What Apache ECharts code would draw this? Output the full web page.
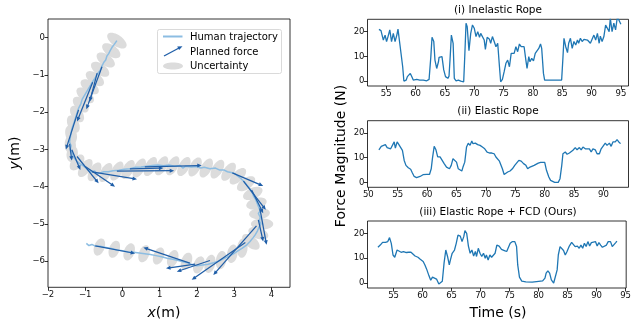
<!DOCTYPE html>
<html><head><meta charset="utf-8">
<script src="https://cdn.jsdelivr.net/npm/echarts@6/dist/echarts.min.js"></script>
<style>html,body{margin:0;padding:0;background:#fff}#c{width:634px;height:325px}</style>
</head><body><div id="c"></div>
<script>
// ---------- Left panel data (metres) ----------
const trajectory = [
[-0.15,-0.08],[-0.22,-0.18],[-0.28,-0.26],[-0.33,-0.35],[-0.37,-0.43],[-0.42,-0.5],[-0.45,-0.6],[-0.5,-0.66],[-0.55,-0.76],[-0.6,-0.88],[-0.66,-0.95],[-0.72,-1.06],[-0.78,-1.15],[-0.84,-1.25],[-0.9,-1.35],[-0.96,-1.45],[-1.02,-1.55],[-1.08,-1.65],[-1.12,-1.78],[-1.18,-1.9],[-1.22,-2.02],[-1.26,-2.15],[-1.3,-2.28],[-1.35,-2.42],[-1.38,-2.55],[-1.4,-2.68],[-1.42,-2.8],[-1.38,-2.9],[-1.4,-3.0],[-1.36,-3.08],[-1.33,-3.18],[-1.28,-3.25],[-1.22,-3.32],[-1.15,-3.38],[-1.08,-3.42],[-1.0,-3.48],[-0.92,-3.55],[-0.85,-3.6],[-0.75,-3.58],[-0.68,-3.65],[-0.6,-3.63],[-0.5,-3.6],[-0.38,-3.6],[-0.25,-3.57],[-0.1,-3.56],[0.05,-3.53],[0.2,-3.52],[0.35,-3.48],[0.5,-3.47],[0.65,-3.45],[0.8,-3.43],[0.95,-3.42],[1.1,-3.44],[1.25,-3.42],[1.4,-3.45],[1.55,-3.43],[1.62,-3.5],[1.7,-3.45],[1.85,-3.47],[2.0,-3.46],[2.1,-3.5],[2.2,-3.48],[2.35,-3.52],[2.5,-3.5],[2.6,-3.55],[2.72,-3.55],[2.82,-3.6],[2.92,-3.62],[3.02,-3.65],[3.1,-3.72],[3.18,-3.78],[3.28,-3.88],[3.35,-3.97],[3.42,-4.05],[3.48,-4.15],[3.52,-4.25],[3.58,-4.35],[3.62,-4.45],[3.66,-4.55],[3.7,-4.65],[3.65,-4.72],[3.7,-4.82],[3.68,-4.92],[3.72,-5.0],[3.66,-5.1],[3.62,-5.2],[3.56,-5.3],[3.5,-5.38],[3.42,-5.48],[3.33,-5.57],[3.22,-5.65],[3.1,-5.72],[2.98,-5.8],[2.85,-5.87],[2.72,-5.93],[2.58,-6.0],[2.45,-6.04],[2.3,-6.08],[2.15,-6.1],[2.0,-6.12],[1.88,-6.1],[1.78,-6.05],[1.65,-6.02],[1.5,-5.98],[1.35,-5.95],[1.2,-5.92],[1.05,-5.88],[0.9,-5.85],[0.75,-5.82],[0.6,-5.8],[0.45,-5.78],[0.3,-5.76],[0.15,-5.75],[0.0,-5.72],[-0.15,-5.7],[-0.3,-5.66],[-0.45,-5.63],[-0.6,-5.6],[-0.72,-5.6],[-0.82,-5.55],[-0.9,-5.58],[-0.97,-5.52]
];
// [centre x, centre y, semi-major, semi-minor, angle deg]
const uncertainty = [
[-0.15,-0.08,0.3,0.15,-35],[-0.3,-0.35,0.28,0.15,-35],[-0.45,-0.6,0.28,0.15,-35],[-0.6,-0.85,0.28,0.15,-35],[-0.74,-1.1,0.28,0.15,-35],[-0.88,-1.32,0.28,0.15,-35],[-1.0,-1.55,0.28,0.15,-40],[-1.12,-1.8,0.26,0.15,-45],[-1.22,-2.05,0.25,0.15,-55],[-1.32,-2.32,0.25,0.15,-65],[-1.38,-2.6,0.25,0.15,-75],[-1.4,-2.88,0.25,0.15,-85],[-1.35,-3.12,0.22,0.15,80],[-1.22,-3.35,0.25,0.15,50],
[-1.0,-3.5,0.28,0.14,55],[-0.75,-3.6,0.28,0.14,60],[-0.45,-3.62,0.28,0.14,62],[-0.15,-3.58,0.28,0.14,62],[0.15,-3.54,0.28,0.14,62],[0.45,-3.5,0.28,0.14,62],[0.75,-3.46,0.28,0.14,62],[1.05,-3.44,0.28,0.14,62],[1.35,-3.44,0.28,0.14,62],[1.65,-3.46,0.28,0.14,62],[1.95,-3.47,0.28,0.14,62],[2.25,-3.5,0.28,0.14,62],[2.55,-3.53,0.28,0.14,60],[2.85,-3.6,0.28,0.14,55],[3.1,-3.72,0.28,0.14,45],
[3.32,-3.92,0.28,0.15,35],[3.5,-4.18,0.28,0.15,25],[3.6,-4.45,0.28,0.15,15],[3.68,-4.72,0.28,0.15,5],[3.75,-5.0,0.3,0.15,0],[3.65,-5.25,0.28,0.15,-20],[3.45,-5.48,0.28,0.15,-40],
[3.22,-5.65,0.26,0.14,85],[2.95,-5.8,0.25,0.14,80],[2.65,-5.97,0.25,0.14,80],[2.35,-6.07,0.25,0.14,75],
[2.05,-6.1,0.24,0.14,70],[1.72,-6.0,0.24,0.14,70],[1.35,-5.93,0.24,0.14,70],[0.97,-5.86,0.24,0.14,70],[0.58,-5.8,0.24,0.14,70],[0.18,-5.75,0.24,0.14,70],[-0.22,-5.68,0.24,0.14,70],[-0.62,-5.62,0.24,0.14,70]
];
// [tail x, tail y, head x, head y]
const plannedForce = [
[-0.55,-0.78,-0.97,-1.92],[-0.68,-0.95,-0.88,-1.72],[-0.8,-1.2,-1.22,-2.25],[-1.18,-1.94,-1.52,-3.0],
[-1.42,-2.85,-1.36,-3.3],[-1.36,-3.01,-1.13,-3.55],[-1.22,-3.19,-0.64,-3.91],[-1.0,-3.46,-0.2,-4.0],[-0.82,-3.6,0.39,-3.8],
[-0.15,-3.58,1.39,-3.57],[0.2,-3.52,1.1,-3.5],[0.6,-3.47,2.13,-3.43],
[2.95,-3.63,3.78,-3.98],[3.25,-3.85,3.85,-4.62],[3.47,-4.09,3.78,-4.71],[3.69,-4.58,3.87,-5.56],[3.65,-4.89,3.78,-5.47],
[3.6,-5.05,2.44,-6.37],[3.3,-5.5,1.86,-6.5],
[1.81,-6.05,0.56,-5.63],[1.95,-6.08,1.17,-6.19],[2.35,-5.98,1.46,-6.28],
[-0.73,-5.59,0.34,-5.79]
];
const xTicksLeft = [-2,-1,0,1,2,3,4];
const yTicksLeft = [-6,-5,-4,-3,-2,-1,0];

// ---------- Right panels data (time s, force N) ----------
const inelastic = [
[53.75,20.9],[54.1,20.4],[54.5,16.6],[54.8,18.6],[55.05,16],[55.3,18],[55.6,20.7],[55.9,16],[56.2,19.3],[56.5,16],[56.8,18.6],[57.0,21],[57.3,15.3],[57.6,15.3],[57.8,5.8],[58.0,0],[58.4,0.4],[58.6,1.8],[58.9,2.4],[59.1,3.1],[59.4,1.5],[59.6,0.4],[60.2,0.7],[60.7,0.4],[61.3,0.4],[61.9,0.1],[62.3,0.7],[62.6,9.9],[62.8,17.7],[63.1,16],[63.3,8.5],[63.6,5.1],[63.9,7.8],[64.0,9.6],[64.3,9.2],[64.5,9.9],[64.8,4.5],[65.1,1.8],[65.5,1.1],[65.7,2],[65.9,9.9],[66.1,18.6],[66.4,15.3],[66.6,1.1],[66.9,0.1],[67.3,0.4],[67.7,0],[68.0,0.6],[68.2,-0.3],[68.4,11],[68.6,23.4],[68.8,22],[69.1,12.3],[69.4,19.3],[69.7,22.7],[70.0,21.4],[70.3,18],[70.6,20],[70.9,17.7],[71.1,19.3],[71.4,19.7],[71.7,16.6],[71.9,12.8],[72.2,17.7],[72.6,16.9],[72.8,15.3],[73.1,18],[73.4,16],[73.7,13.9],[74.0,15.3],[74.3,5.8],[74.5,-0.3],[74.8,0.7],[75.1,3.8],[75.4,7.2],[75.7,8.5],[76.0,5.8],[76.3,11.2],[76.5,11.9],[76.8,11.2],[77.1,13.9],[77.4,11.9],[77.7,15],[78.0,13.9],[78.2,14.6],[78.5,13.9],[78.8,8.5],[79.0,5.1],[79.3,9.9],[79.5,7.8],[79.8,9.2],[80.1,8.2],[80.4,11.2],[80.7,11.9],[81.0,13.2],[81.3,15],[81.5,13.2],[81.8,3.1],[82.0,0.4],[82.9,0.4],[84.0,0.4],[84.9,0.4],[85.1,8.5],[85.3,17.3],[85.6,13.9],[85.9,11.5],[86.1,15.3],[86.4,17.3],[86.7,13.2],[87.0,16],[87.3,14.6],[87.6,16.6],[87.8,15.3],[88.1,17.3],[88.4,16],[88.7,16.9],[89.0,17.3],[89.3,16.6],[89.5,16],[89.8,15.3],[90.1,15.5],[90.4,18.6],[90.7,16.6],[91.0,19.3],[91.3,15.3],[91.5,18.2],[91.8,16],[92.1,18],[92.4,22.7],[92.7,23.1],[93.0,20],[93.2,25.4],[93.5,20],[93.8,23.4],[94.1,20.7],[94.4,26],[94.7,25.4],[95.0,23]
];
const elastic = [
[51.8,13.2],[52.2,14.6],[52.5,15.3],[52.9,15.3],[53.2,14.1],[53.5,14.6],[53.8,13.6],[54.1,14.3],[54.4,16.4],[54.6,13.9],[54.9,16.4],[55.2,15.3],[55.5,15.7],[55.8,13],[56.1,8.9],[56.4,6.9],[56.8,5.9],[57.2,5.3],[57.5,3.8],[57.8,2.4],[58.2,1.9],[58.8,2.4],[59.3,3.1],[59.9,3.2],[60.4,3.2],[60.7,5.5],[60.9,9.6],[61.2,14.6],[61.5,13.2],[61.8,10.3],[62.2,10.3],[62.5,10.9],[62.9,7.6],[63.3,6.2],[63.8,5.5],[64.1,6.9],[64.4,9.6],[64.7,10],[65.0,8.2],[65.3,5.5],[65.6,4.9],[65.9,4.6],[66.1,6.2],[66.4,8.2],[66.7,14.3],[67.0,15.9],[67.3,15],[67.6,16.8],[67.8,15.7],[68.2,15.9],[68.6,15.3],[69.0,15],[69.4,14.3],[69.8,13.6],[70.2,12.3],[70.6,11.9],[71.0,11.9],[71.4,11.6],[71.7,10.3],[72.0,10.9],[72.3,8.6],[72.6,7.8],[72.8,5.5],[73.1,3.2],[73.4,2.8],[73.7,4.2],[74.1,4.6],[74.5,5.5],[74.9,6.9],[75.2,7.6],[75.6,8.9],[76.0,8.6],[76.4,7.6],[76.8,6.9],[77.1,5.5],[77.5,6.2],[77.8,5.5],[78.2,6.9],[78.5,7.3],[78.9,7.8],[79.3,8.1],[79.6,7.6],[80.0,8.1],[80.3,4.9],[80.7,2.2],[81.0,0.8],[81.3,0.1],[81.7,0],[82.3,0],[82.6,1.5],[82.9,6.9],[83.1,11.6],[83.5,12.3],[83.8,11.4],[84.2,11.9],[84.5,11.6],[84.8,13],[85.2,14.1],[85.5,13.2],[85.9,14.1],[86.2,13.2],[86.5,14.3],[86.9,13.6],[87.2,13],[87.6,13.6],[87.9,12.3],[88.2,13.6],[88.6,13.2],[88.9,11.6],[89.3,11.6],[89.6,13.6],[89.9,14.3],[90.3,15.9],[90.6,15],[91.0,15.9],[91.3,14.6],[91.6,16.4],[92.0,16.4],[92.3,17.3],[92.6,16.4],[92.9,15.7]
];
const elasticFCD = [
[52.3,14.4],[52.7,15.3],[53.1,16.4],[53.6,16.4],[54.0,16.7],[54.3,18.3],[54.6,16],[54.9,11.3],[55.2,10.4],[55.6,13.3],[55.9,12.7],[56.3,12.4],[56.7,12.7],[57.2,12.3],[57.6,12.4],[58.0,12.4],[58.3,11.6],[58.7,10.9],[59.2,10.4],[59.6,9.6],[60.1,8.7],[60.4,7.3],[60.7,5.6],[61.1,2.9],[61.4,1.1],[61.7,2.4],[62.0,3.2],[62.4,1.6],[62.8,-0.4],[63.1,-1.1],[63.4,0.7],[63.7,8],[64.0,13.3],[64.3,10.7],[64.6,7.3],[64.8,9.3],[65.1,12],[65.5,13.3],[65.8,16],[66.1,19.3],[66.5,18.9],[66.8,16.7],[67.1,18.7],[67.3,21.1],[67.6,20],[67.9,14.9],[68.2,12],[68.5,13.3],[68.8,10.9],[69.1,12.7],[69.3,10.7],[69.6,14],[69.9,12],[70.2,10.7],[70.5,12],[70.8,10],[71.0,11.3],[71.3,9.3],[71.6,11.3],[71.9,10.4],[72.2,9.6],[72.5,12],[72.8,15.3],[73.2,14.9],[73.6,13.6],[74.1,13.1],[74.5,12.7],[74.8,13.3],[75.1,16],[75.5,16.7],[75.9,16.7],[76.2,14.7],[76.4,7.3],[76.7,2.4],[77.1,0.8],[77.8,0.5],[78.9,0.4],[80.0,0.7],[80.7,0.9],[81.1,2],[81.3,4],[81.6,4.9],[81.9,4],[82.2,1.3],[82.6,0],[82.9,0.7],[83.2,5.3],[83.4,11.3],[83.7,14.7],[84.0,15.1],[84.3,13.1],[84.6,11.3],[84.9,12.7],[85.3,14.9],[85.7,16.4],[86.0,16.3],[86.3,14.7],[86.7,14.9],[87.0,14],[87.3,15.3],[87.6,14],[87.9,16],[88.2,14.7],[88.5,16.7],[88.8,14.9],[89.1,16.3],[89.4,15.6],[89.8,16.7],[90.1,14.9],[90.4,16.3],[90.7,15.3],[91.0,14.4],[91.3,14],[91.7,15.3],[92.0,16.7],[92.4,16.7],[92.7,14.7],[93.0,14.7],[93.3,16.3],[93.5,16.9]
];
const forceTicks = [0,10,20];
const timeTicks1 = [55,60,65,70,75,80,85,90,95];
const timeTicks2 = [50,55,60,65,70,75,80,85,90];
const timeTicks3 = [55,60,65,70,75,80,85,90,95];

// ---------- styles ----------
const FONT = 'DejaVu Sans';
const TRAJ_C = '#8cbde2', ARROW_C = '#1f5ea8', ELL_C = '#dcdcdc', LINE_C = '#1f77b4';
const fmt = v => (v < 0 ? '\u2212' + Math.abs(v) : String(v));

function axis(gi, min, max, ticks, pos) {
  return {
    type: 'value', gridIndex: gi, min: min, max: max, position: pos, offset: 0,
    axisLine: {show: false, onZero: false},
    axisTick: {show: true, inside: false, length: 3.5, customValues: ticks, lineStyle: {color: '#000', width: 0.8}},
    axisLabel: {show: true, customValues: ticks, formatter: fmt, fontSize: 8.5, fontFamily: FONT, color: '#111', margin: 3},
    splitLine: {show: false}
  };
}
const gridStyle = {show: true, borderColor: '#000', borderWidth: 0.8, backgroundColor: 'transparent'};

const ellipseSeries = {
  type: 'custom', xAxisIndex: 0, yAxisIndex: 0, z: 1, silent: true,
  data: uncertainty,
  encode: {x: 0, y: 1},
  renderItem: function (params, api) {
    const cx = api.value(0), cy = api.value(1), a = api.value(2), b = api.value(3), ang = api.value(4) * Math.PI / 180;
    const pts = [];
    for (let k = 0; k < 40; k++) {
      const t = k / 40 * 2 * Math.PI, ex = a * Math.cos(t), ey = b * Math.sin(t);
      pts.push(api.coord([cx + ex * Math.cos(ang) - ey * Math.sin(ang), cy + ex * Math.sin(ang) + ey * Math.cos(ang)]));
    }
    return {type: 'polygon', shape: {points: pts}, style: {fill: ELL_C}};
  }
};
const arrowSeries = {
  type: 'custom', xAxisIndex: 0, yAxisIndex: 0, z: 3, silent: true,
  data: plannedForce,
  encode: {x: [0, 2], y: [1, 3]},
  renderItem: function (params, api) {
    const p0 = api.coord([api.value(0), api.value(1)]), p1 = api.coord([api.value(2), api.value(3)]);
    const dx = p1[0] - p0[0], dy = p1[1] - p0[1], L = Math.hypot(dx, dy) || 1, ux = dx / L, uy = dy / L;
    const hl = 4.5, hw = 2;
    const bx = p1[0] - ux * hl, by = p1[1] - uy * hl;
    return {type: 'group', children: [
      {type: 'line', shape: {x1: p0[0], y1: p0[1], x2: bx + ux, y2: by + uy}, style: {stroke: ARROW_C, lineWidth: 1.25}},
      {type: 'polygon', shape: {points: [[p1[0], p1[1]], [bx - uy * hw, by + ux * hw], [bx + uy * hw, by - ux * hw]]}, style: {fill: ARROW_C}}
    ]};
  }
};
function forceLine(idx, data) {
  return {type: 'line', xAxisIndex: idx, yAxisIndex: idx, data: data, showSymbol: false, symbol: 'none',
    lineStyle: {color: LINE_C, width: 1.3}, z: 2, silent: true, clip: true};
}

const txt = (t, x, y, size, extra) => Object.assign({type: 'text', x: x, y: y, silent: true,
  style: Object.assign({text: t, fontSize: size, fontFamily: FONT, fill: '#000', align: 'center', verticalAlign: 'middle'}, (extra && extra.style) || {})},
  extra && extra.rotation !== undefined ? {rotation: extra.rotation} : {});

const option = {
  animation: false,
  backgroundColor: '#fff',
  grid: [
    Object.assign({left: 48, top: 19, width: 242, height: 268.3}, gridStyle),
    Object.assign({left: 367.5, top: 19.3, width: 261, height: 66.7}, gridStyle),
    Object.assign({left: 367.5, top: 120.7, width: 261, height: 66.6}, gridStyle),
    Object.assign({left: 367.5, top: 221, width: 261, height: 67}, gridStyle)
  ],
  xAxis: [
    axis(0, -2, 4.5, xTicksLeft, 'bottom'),
    axis(1, 51.8, 96.3, timeTicks1, 'bottom'),
    axis(2, 49.86, 94.25, timeTicks2, 'bottom'),
    axis(3, 50.5, 95.1, timeTicks3, 'bottom')
  ],
  yAxis: [
    axis(0, -6.7, 0.5, yTicksLeft, 'left'),
    axis(1, -2, 25, forceTicks, 'left'),
    axis(2, -2, 25, forceTicks, 'left'),
    axis(3, -2, 25, forceTicks, 'left')
  ],
  series: [
    ellipseSeries,
    {type: 'line', xAxisIndex: 0, yAxisIndex: 0, data: trajectory, showSymbol: false, symbol: 'none',
      lineStyle: {color: TRAJ_C, width: 1.5}, z: 2, silent: true},
    arrowSeries,
    forceLine(1, inelastic),
    forceLine(2, elastic),
    forceLine(3, elasticFCD)
  ],
  graphic: [
    txt('(i) Inelastic Rope', 498, 10.5, 10.5),
    txt('(ii) Elastic Rope', 498, 111.5, 10.5),
    txt('(iii) Elastic Rope + FCD (Ours)', 498, 212, 10.5),
    txt('Force Magnitude (N)', 341, 156, 14, {rotation: Math.PI / 2}),
    txt('Time (s)', 498, 313, 14),
    txt('{i|x}(m)', 164, 313, 14, {style: {rich: {i: {fontStyle: 'italic', fontSize: 14, fontFamily: FONT}}}}),
    txt('{i|y}(m)', 15, 153, 14, {rotation: Math.PI / 2, style: {rich: {i: {fontStyle: 'italic', fontSize: 14, fontFamily: FONT}}}}),
    // legend
    {type: 'rect', shape: {x: 157.5, y: 29.5, width: 124, height: 44, r: 2}, style: {fill: 'rgba(255,255,255,0.85)', stroke: '#d0d0d0', lineWidth: 0.8}, z: 10},
    {type: 'line', shape: {x1: 163, y1: 36.5, x2: 182.5, y2: 36.5}, style: {stroke: TRAJ_C, lineWidth: 2}, z: 11},
    {type: 'line', shape: {x1: 164, y1: 56, x2: 179, y2: 48}, style: {stroke: ARROW_C, lineWidth: 1.25}, z: 11},
    {type: 'polygon', shape: {points: [[182.5, 46.2], [177.2, 46.6], [179.1, 50.1]]}, style: {fill: ARROW_C}, z: 11},
    {type: 'ellipse', shape: {cx: 173, cy: 66, rx: 10, ry: 3.6}, style: {fill: ELL_C}, z: 11},
    Object.assign(txt('Human trajectory', 190, 37, 10, {style: {align: 'left'}}), {z: 11}),
    Object.assign(txt('Planned force', 190, 52, 10, {style: {align: 'left'}}), {z: 11}),
    Object.assign(txt('Uncertainty', 190, 66.5, 10, {style: {align: 'left'}}), {z: 11})
  ]
};
const chart = echarts.init(document.getElementById('c'));
chart.setOption(option);
</script></body></html>
